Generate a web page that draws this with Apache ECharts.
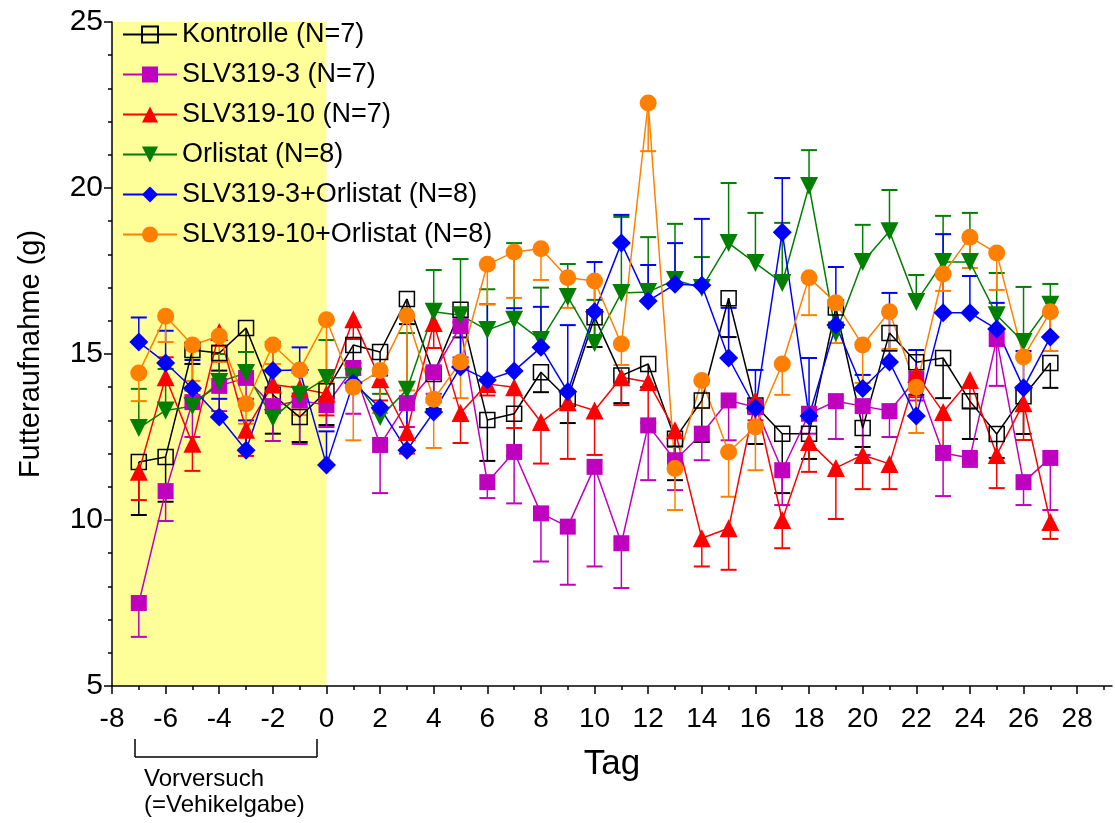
<!DOCTYPE html>
<html><head><meta charset="utf-8">
<script src="https://cdn.jsdelivr.net/npm/echarts@6/dist/echarts.min.js"></script>
<style>html,body{margin:0;padding:0;background:#fff}#c{width:1115px;height:823px}</style>
</head><body><div id="c"></div>
<script>
// ---- data (days -7 .. 27) ----
const days = [-7,-6,-5,-4,-3,-2,-1,0,1,2,3,4,5,6,7,8,9,10,11,12,13,14,15,16,17,18,19,20,21,22,23,24,25,26,27];
const xTickValues = [-8,-6,-4,-2,0,2,4,6,8,10,12,14,16,18,20,22,24,26,28];
const xMinorValues = [-7,-5,-3,-1,1,3,5,7,9,11,13,15,17,19,21,23,25,27,29];
const yTickValues = [5,10,15,20,25];
const baselineRange = [-8, 0];

const kontrolle    = [11.75,11.9,15.12,15.03,15.78,13.77,13.1,13.88,15.27,15.06,16.66,14.4,16.33,13.01,13.2,14.45,13.65,16.11,14.35,14.7,12.45,13.6,16.68,13.45,12.6,12.6,16.4,12.77,15.63,14.75,14.88,13.58,12.59,13.73,14.73];
const kontrolleErr = [10.15,10.55,14.7,14.5,14.2,12.6,12.35,12.86,14.6,14.0,15.9,13.34,15.5,11.78,11.93,13.85,12.92,15.21,13.52,14.0,11.2,12.35,15.51,12.29,10.81,11.84,15.8,12.2,15.1,13.77,13.67,12.44,11.87,12.59,13.98];

const slv3    = [7.5,10.87,13.55,14.04,14.28,13.43,13.6,13.46,14.58,12.26,13.52,14.45,15.84,11.14,12.05,10.2,9.8,11.6,9.3,12.85,11.8,12.6,13.6,13.4,11.5,13.2,13.58,13.43,13.28,14.25,12.02,11.87,15.45,11.14,11.87];
const slv3Err = [6.48,9.97,12.5,13.28,13.65,12.38,12.29,12.8,13.2,10.81,12.8,13.8,14.9,10.66,10.5,8.75,8.05,8.6,7.95,11.2,10.9,11.8,12.4,12.9,10.45,12.6,12.44,11.96,12.5,13.6,10.72,11.6,14.04,10.45,10.3];

const slv10    = [11.45,14.3,12.3,15.66,12.72,14.08,13.97,13.8,16.05,14.25,12.65,15.93,13.22,14.1,14.0,12.95,13.55,13.3,14.3,14.16,12.7,9.45,9.75,13.6,10.0,12.35,11.57,11.96,11.69,14.4,13.25,14.22,11.96,13.52,9.94];
const slv10Err = [10.6,14.9,11.48,15.25,11.93,13.5,13.4,13.15,15.45,13.6,12.0,15.18,12.32,13.75,12.77,11.7,11.84,11.96,13.46,12.92,12.2,8.6,8.5,13.0,9.15,11.45,10.03,10.93,10.93,13.7,12.08,13.37,10.96,12.41,9.43];

const orlistat    = [12.77,13.3,13.43,14.16,14.43,13.07,13.77,14.28,14.3,13.1,13.92,16.27,16.17,15.72,16.03,15.42,16.72,15.33,16.84,16.87,17.23,16.99,18.34,17.74,17.14,20.06,15.63,17.77,18.7,16.57,17.77,17.77,16.17,15.36,16.48];
const orlistatErr = [13.95,14.55,13.9,15.0,15.06,13.5,14.43,15.42,14.7,13.8,15.63,17.53,17.86,16.95,18.34,17.0,17.71,16.63,19.13,18.52,18.92,17.92,20.15,19.25,18.95,21.14,15.95,18.89,19.94,17.38,19.16,19.25,17.44,17.02,17.11];

const slv3orl    = [15.36,14.73,13.97,13.1,12.1,14.5,14.52,11.66,14.13,13.38,12.1,13.25,14.61,14.22,14.49,15.2,13.86,16.27,18.34,16.6,17.1,17.07,14.88,13.37,18.67,13.13,15.87,13.96,14.76,13.13,16.24,16.24,15.75,13.98,15.51];
const slv3orlErr = [16.1,15.7,14.82,13.65,13.0,15.36,15.2,12.67,14.73,14.35,13.52,13.55,15.96,16.5,16.38,16.42,15.87,17.77,19.19,17.68,18.34,19.07,16.39,14.52,20.3,14.88,17.62,14.37,16.84,15.12,18.61,17.35,16.54,15.09,16.24];

const slv10orl    = [14.43,16.14,15.27,15.54,13.5,15.27,14.52,16.03,14.0,14.5,16.15,13.64,14.76,17.7,18.07,18.17,17.3,17.2,15.3,22.56,11.55,14.2,12.05,12.8,14.7,17.3,16.54,15.27,16.27,14.0,17.41,18.52,18.04,14.91,16.27];
const slv10orlErr = [13.58,15.36,14.19,14.76,12.9,14.7,13.16,14.16,12.4,13.22,13.9,12.17,13.67,16.5,16.69,17.23,16.39,16.23,14.67,21.11,10.3,13.37,10.7,11.5,13.77,16.17,15.33,14.13,15.15,12.62,16.9,17.59,16.93,14.04,15.09];

const FONT = '"Liberation Sans", Arial, Helvetica, sans-serif';
const Y_MIN = 5, Y_MAX = 25, X_MIN = -8, X_MAX = 29.3;

const groups = [
  {name:'Kontrolle (N=7)', mean:kontrolle, err:kontrolleErr, color:'#000000', symbol:'rect', size:15, hollow:true},
  {name:'SLV319-3 (N=7)', mean:slv3, err:slv3Err, color:'#BF00BF', symbol:'rect', size:16},
  {name:'SLV319-10 (N=7)', mean:slv10, err:slv10Err, color:'#FF0000', symbol:'triangle', size:18},
  {name:'Orlistat (N=8)', mean:orlistat, err:orlistatErr, color:'#007F00', symbol:'triangle', size:18, rotate:180},
  {name:'SLV319-3+Orlistat (N=8)', mean:slv3orl, err:slv3orlErr, color:'#0000FF', symbol:'diamond', size:19},
  {name:'SLV319-10+Orlistat (N=8)', mean:slv10orl, err:slv10orlErr, color:'#FF8000', symbol:'circle', size:17}
];

const series = [];
// yellow baseline band
series.push({
  type:'custom', name:'band', silent:true, z:-1, animation:false,
  data:[baselineRange], encode:{x:[0,1]},
  renderItem:function(p, api){
    const a = api.coord([api.value(0), Y_MAX]);
    const b = api.coord([api.value(1), Y_MIN]);
    return {type:'rect', shape:{x:a[0], y:a[1], width:b[0]-a[0], height:b[1]-a[1]}, style:{fill:'#FFFF99'}};
  }
});

groups.forEach(function(g){
  series.push({
    type:'custom', name:g.name+' err', silent:true, animation:false, z:2,
    data: days.map(function(d,i){return [d, g.mean[i], g.err[i]];}),
    encode:{x:0, y:[1,2]},
    renderItem:function(p, api){
      const x = api.value(0), m = api.value(1), e = api.value(2);
      const p0 = api.coord([x, m]), p1 = api.coord([x, e]);
      const hw = 8;
      return {type:'group', children:[
        {type:'line', shape:{x1:p0[0], y1:p0[1], x2:p1[0], y2:p1[1]}, style:{stroke:g.color, lineWidth:1.5}},
        {type:'line', shape:{x1:p1[0]-hw, y1:p1[1], x2:p1[0]+hw, y2:p1[1]}, style:{stroke:g.color, lineWidth:2}}
      ]};
    }
  });
  series.push({
    type:'line', name:g.name, silent:true, animation:false, z:2,
    data: days.map(function(d,i){return [d, g.mean[i]];}),
    symbol:g.symbol, symbolSize:g.size, symbolRotate:g.rotate||0, showAllSymbol:true,
    lineStyle:{color:g.color, width:1.5},
    itemStyle: g.hollow ? {color:'rgba(255,255,255,0)', borderColor:g.color, borderWidth:1.5} : {color:g.color, borderWidth:0},
    emphasis:{disabled:true}
  });
});

const axisLineStyle = {color:'#000', width:1.5};
const chart = echarts.init(document.getElementById('c'), null, {renderer:'canvas'});
chart.setOption({
  animation:false,
  backgroundColor:'#fff',
  grid:{left:112, right:3, top:22, bottom:137},
  legend:{
    orient:'vertical', left:122, top:21, padding:0, itemWidth:54, itemHeight:20, itemGap:13,
    selectedMode:false, data: groups.map(function(g){return g.name;}),
    textStyle:{fontFamily:FONT, fontSize:27, color:'#000', lineHeight:26}
  },
  xAxis:[
    {type:'value', min:X_MIN, max:X_MAX, interval:2, position:'bottom',
     axisLine:{show:true, onZero:false, lineStyle:axisLineStyle},
     axisTick:{show:true, length:8, lineStyle:axisLineStyle, customValues:xTickValues},
     axisLabel:{customValues:xTickValues, fontFamily:FONT, fontSize:28, color:'#000', margin:19},
     splitLine:{show:false},
     name:'Tag', nameLocation:'middle', nameGap:61,
     nameTextStyle:{fontFamily:FONT, fontSize:35, color:'#000'}},
    {type:'value', min:X_MIN, max:X_MAX, position:'bottom',
     axisLine:{show:false, onZero:false},
     axisTick:{show:true, length:4, lineStyle:axisLineStyle, customValues:xMinorValues},
     axisLabel:{show:false}, splitLine:{show:false}}
  ],
  yAxis:{type:'value', min:Y_MIN, max:Y_MAX, interval:5,
    axisLine:{show:true, onZero:false, lineStyle:axisLineStyle},
    axisTick:{show:true, length:8, lineStyle:axisLineStyle},
    minorTick:{show:true, splitNumber:5, length:4, lineStyle:axisLineStyle},
    axisLabel:{customValues:yTickValues, fontFamily:FONT, fontSize:30, color:'#000', margin:9},
    splitLine:{show:false},
    name:'Futteraufnahme (g)', nameLocation:'middle', nameGap:67,
    nameTextStyle:{fontFamily:FONT, fontSize:29, color:'#000'}},
  series:series,
  graphic:[
    {type:'line', shape:{x1:135, y1:757, x2:317, y2:757}, style:{stroke:'#000', lineWidth:1.5}},
    {type:'line', shape:{x1:135, y1:739, x2:135, y2:757}, style:{stroke:'#000', lineWidth:1.5}},
    {type:'line', shape:{x1:317, y1:739, x2:317, y2:757}, style:{stroke:'#000', lineWidth:1.5}},
    {type:'text', left:144, top:767, style:{text:'Vorversuch', font:'24px "Liberation Sans", Arial, sans-serif', fill:'#000'}},
    {type:'text', left:144, top:793, style:{text:'(=Vehikelgabe)', font:'24px "Liberation Sans", Arial, sans-serif', fill:'#000'}}
  ]
});
</script></body></html>
